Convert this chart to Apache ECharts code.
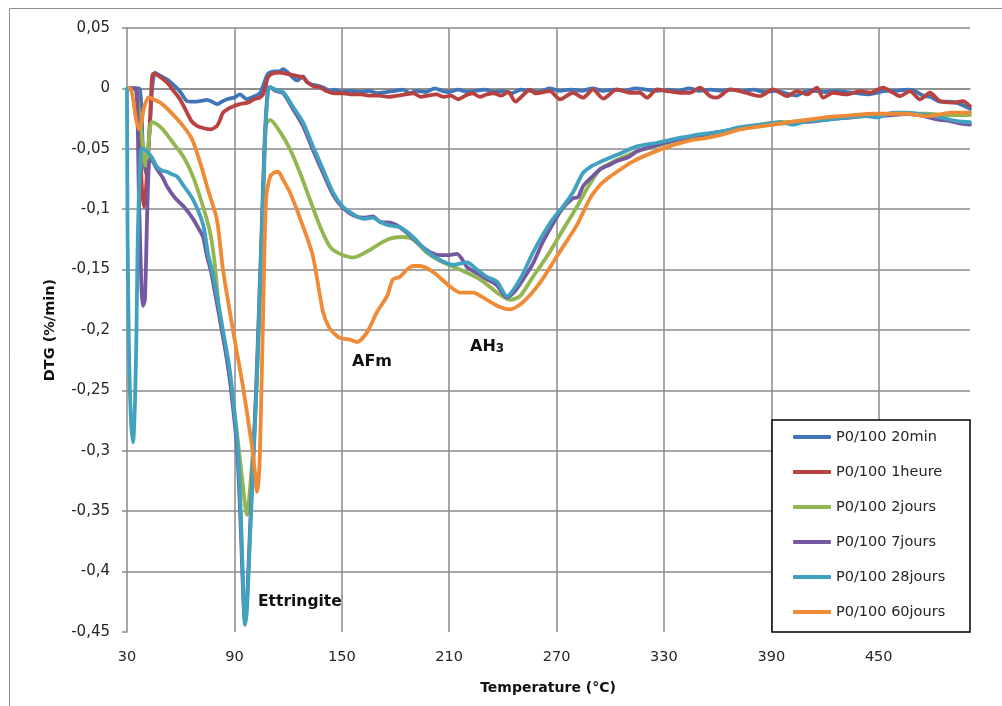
<!DOCTYPE html>
<html><head><meta charset="utf-8">
<script src="https://cdn.jsdelivr.net/npm/echarts@6/dist/echarts.min.js"></script>
<style>html,body{margin:0;padding:0;background:#fff}#c{width:1002px;height:706px}</style>
</head><body><div id="c"></div>
<script>
const seriesNames = ['P0/100 20min','P0/100 1heure','P0/100 2jours','P0/100 7jours','P0/100 28jours','P0/100 60jours'];
const seriesColors = ['#4175B8','#B8423F','#93B651','#7459A0','#41A2BF','#EF8A36'];
const xTickStart = 30, xTickStep = 60, xMax = 501;
const yMin = -0.45, yMax = 0.05, yStep = 0.05;

const s20min = [[31.5,0],[36.7,0],[38.9,-0.05],[40.6,-0.071],[42.3,-0.042],[44,-0.001],[45.6,0.013],[48,0.011],[52.3,0.0075],[56,0.003],[59.6,-0.0025],[63.5,-0.0105],[67,-0.011],[70.8,-0.0105],[74.7,-0.0095],[77.5,-0.011],[80.3,-0.013],[83,-0.011],[85.9,-0.009],[90,-0.0075],[93.1,-0.005],[97,-0.009],[100.5,-0.007],[104.3,-0.004],[106.5,0.004],[108.7,0.012],[112,0.014],[115,0.014],[117.2,0.016],[120,0.013],[122.7,0.009],[125,0.0066],[128.3,0.01],[130.6,0.005],[133.9,0.003],[137.8,0.0017],[140,0.0005],[143.4,-0.002],[146,-0.001],[149,-0.0025],[155,-0.002],[160,-0.003],[165,-0.002],[170,-0.004],[175,-0.003],[180,-0.002],[184,-0.001],[188,-0.004],[192,-0.002],[197,-0.003],[202,0.0],[206,-0.002],[210,-0.003],[215,-0.001],[220,-0.003],[225,-0.002],[230,-0.001],[235,-0.003],[240,-0.002],[245,-0.004],[250,-0.001],[255,-0.002],[260,-0.003],[266,0],[272,-0.002],[278,-0.001],[284,-0.002],[290,0.0],[296,-0.002],[302,-0.001],[308,-0.002],[314,0],[320,-0.001],[326,-0.002],[332,-0.001],[338,-0.002],[344,0],[350,-0.002],[356,-0.001],[362,-0.002],[368,-0.001],[374,-0.002],[380,-0.001],[386,-0.003],[392,-0.002],[398,-0.004],[404,-0.006],[408,-0.003],[414,-0.002],[420,-0.003],[426,-0.002],[432,-0.003],[438,-0.004],[444,-0.005],[448,-0.004],[454,-0.002],[460,-0.002],[466,-0.001],[470,-0.002],[474.7,-0.006],[479,-0.007],[484.2,-0.011],[489,-0.011],[493.7,-0.012],[497,-0.014],[501,-0.017]];

const s1heure = [[31.5,0],[35,0],[38.4,-0.084],[39.5,-0.098],[40.6,-0.084],[42.9,-0.026],[44.5,0.012],[47,0.011],[52.3,0.005],[56,-0.002],[59.6,-0.009],[63.5,-0.020],[66,-0.027],[69.1,-0.031],[73,-0.033],[76.4,-0.034],[80.3,-0.031],[82,-0.026],[83.6,-0.020],[86.5,-0.017],[89.2,-0.015],[93,-0.013],[97,-0.012],[98.7,-0.011],[101,-0.009],[104.3,-0.0075],[106,-0.005],[107.5,0.002],[108.7,0.009],[111.6,0.0125],[115,0.013],[119.4,0.012],[124,0.0105],[128.3,0.009],[131,0.005],[133.9,0.002],[137.8,0.001],[141,-0.002],[146,-0.004],[151,-0.004],[156,-0.005],[161,-0.005],[166,-0.006],[171,-0.006],[176,-0.007],[181,-0.006],[186,-0.005],[190,-0.004],[194,-0.007],[198,-0.006],[203,-0.005],[207,-0.007],[211,-0.006],[215,-0.009],[219,-0.006],[223,-0.004],[227,-0.007],[231,-0.005],[235,-0.004],[239,-0.006],[243,-0.003],[247,-0.011],[251,-0.006],[255,-0.001],[258,-0.004],[260.7,-0.0036],[266.3,-0.0022],[271.9,-0.0091],[279.2,-0.0036],[284.8,-0.0077],[290.4,-0.0008],[296,-0.0085],[303.8,-0.0008],[311,-0.0036],[316.6,-0.0036],[320.5,-0.0077],[326.1,-0.0008],[331.7,-0.0022],[338.9,-0.0036],[344.5,-0.0036],[350.1,0.0006],[355.7,-0.0064],[359.6,-0.0077],[366.9,-0.0008],[372.5,-0.0022],[383.7,-0.0064],[390.9,-0.0008],[398.7,-0.0064],[404.3,-0.0022],[409.9,-0.005],[415.5,0.0006],[418.9,-0.0077],[424.5,-0.0036],[432.3,-0.005],[439.5,-0.0022],[445.1,-0.0036],[452.4,0.0006],[458,-0.0036],[461.9,-0.0064],[467.5,-0.0022],[473,-0.0091],[478.6,-0.0036],[484.2,-0.0105],[491.5,-0.0118],[497.1,-0.0105],[501,-0.0147]];

const s2jours = [[31.5,0],[33.9,0],[37.3,-0.026],[39.5,-0.059],[40.6,-0.064],[41.7,-0.05],[42.9,-0.032],[44,-0.028],[47,-0.03],[50.1,-0.034],[55.7,-0.045],[61.3,-0.056],[66.9,-0.073],[72.5,-0.098],[76.4,-0.119],[79,-0.145],[82,-0.191],[85.9,-0.224],[89.2,-0.258],[93.1,-0.307],[95.9,-0.344],[97,-0.353],[98.7,-0.332],[101.5,-0.274],[104.3,-0.175],[106.5,-0.075],[107.7,-0.030],[110,-0.026],[115.5,-0.036],[121,-0.050],[126.7,-0.070],[132.2,-0.092],[137.8,-0.114],[143.4,-0.131],[149,-0.137],[156.3,-0.140],[164.1,-0.135],[173,-0.127],[178,-0.124],[184.2,-0.123],[189.8,-0.125],[197.6,-0.136],[206.5,-0.144],[216,-0.150],[227.2,-0.158],[236.7,-0.169],[244,-0.175],[249.6,-0.172],[256.8,-0.156],[264.7,-0.139],[273.6,-0.117],[281.4,-0.098],[287,-0.083],[294.3,-0.067],[300,-0.062],[305.4,-0.058],[315,-0.052],[327.8,-0.047],[339,-0.042],[350,-0.039],[361,-0.036],[372.5,-0.033],[384,-0.030],[395,-0.028],[410,-0.027],[421,-0.025],[432,-0.024],[443,-0.023],[455,-0.022],[466,-0.021],[477,-0.021],[488,-0.022],[501,-0.022]];

const s7jours = [[31.5,0],[34.9,0],[36.7,-0.092],[38.1,-0.166],[38.9,-0.18],[40,-0.175],[41.2,-0.108],[42.3,-0.061],[43.4,-0.059],[46.8,-0.067],[50,-0.074],[52.3,-0.081],[57,-0.091],[61.8,-0.098],[66.9,-0.108],[70,-0.116],[72.5,-0.123],[74.7,-0.139],[77,-0.152],[79.5,-0.172],[83,-0.2],[86.8,-0.234],[89.8,-0.272],[91.6,-0.3],[93.4,-0.357],[94.6,-0.407],[95.8,-0.44],[96.9,-0.428],[98.6,-0.37],[100.3,-0.312],[102,-0.255],[103.6,-0.188],[105.3,-0.114],[107,-0.04],[108.8,0.0],[110,0.001],[113,-0.002],[117.2,-0.004],[122.7,-0.017],[128.3,-0.031],[133.9,-0.051],[139.5,-0.070],[145.1,-0.088],[150.7,-0.099],[156.3,-0.105],[161.9,-0.107],[167.4,-0.106],[172,-0.111],[175.3,-0.111],[179,-0.112],[182.5,-0.115],[189.8,-0.124],[195,-0.131],[200,-0.136],[205,-0.138],[210,-0.138],[214.4,-0.137],[217,-0.141],[220,-0.148],[225.5,-0.153],[231.1,-0.158],[236.7,-0.163],[242.3,-0.173],[246,-0.169],[249.6,-0.162],[256.8,-0.145],[262,-0.128],[268,-0.112],[273,-0.1],[279.2,-0.091],[282,-0.09],[284.8,-0.081],[290,-0.073],[294.3,-0.067],[300,-0.063],[303.8,-0.060],[310,-0.057],[315,-0.052],[326,-0.047],[338.9,-0.042],[350,-0.039],[361,-0.036],[372.5,-0.033],[383.7,-0.031],[395,-0.029],[405,-0.028],[415,-0.027],[425,-0.025],[435,-0.024],[443,-0.022],[450,-0.023],[458,-0.022],[466,-0.021],[472,-0.022],[478,-0.024],[484,-0.026],[490,-0.027],[495,-0.029],[501,-0.030]];

const s28jours = [[30,0],[30.3,-0.117],[31.1,-0.216],[32.2,-0.274],[33.4,-0.293],[34.5,-0.258],[35.3,-0.2],[36.1,-0.117],[37.3,-0.063],[38.1,-0.05],[39.5,-0.05],[41,-0.052],[43.4,-0.056],[46.8,-0.065],[49.5,-0.068],[52.3,-0.069],[55,-0.071],[58,-0.073],[61.8,-0.081],[66.9,-0.092],[72.5,-0.1126],[75.3,-0.137],[78,-0.154],[80.3,-0.172],[83.6,-0.2],[87.5,-0.234],[90.3,-0.272],[92,-0.299],[93.7,-0.357],[94.8,-0.407],[95.9,-0.444],[97,-0.431],[98.7,-0.373],[100.4,-0.315],[102.1,-0.258],[103.7,-0.191],[105.4,-0.117],[107.1,-0.042],[108.8,-0.0025],[110,0.001],[113,-0.001],[117.2,-0.003],[122.7,-0.015],[128.3,-0.028],[133.9,-0.048],[139.5,-0.067],[145.1,-0.086],[150.7,-0.098],[156.3,-0.104],[161.9,-0.108],[167.4,-0.107],[171,-0.110],[175.3,-0.113],[182.5,-0.115],[189.8,-0.123],[197.6,-0.135],[204.9,-0.142],[212.1,-0.146],[220,-0.144],[225.5,-0.150],[231.1,-0.156],[236.7,-0.160],[242.3,-0.172],[249.6,-0.158],[256.8,-0.136],[262,-0.122],[268,-0.108],[274,-0.097],[279.2,-0.086],[284.8,-0.070],[290,-0.064],[294.3,-0.061],[303.8,-0.055],[315,-0.048],[326.1,-0.045],[338.9,-0.041],[350.1,-0.038],[361.3,-0.036],[372.5,-0.032],[383.7,-0.030],[394.8,-0.028],[402.1,-0.030],[409.9,-0.027],[421.1,-0.026],[432.3,-0.024],[443.4,-0.023],[449,-0.024],[458,-0.020],[465.8,-0.020],[477,-0.022],[484.2,-0.024],[493.7,-0.027],[501,-0.028]];

const s60jours = [[31.5,0],[32,0],[33.4,-0.009],[35,-0.025],[36.7,-0.034],[37.8,-0.03],[39.5,-0.016],[41.2,-0.009],[42.3,-0.0075],[44.5,-0.009],[48.4,-0.0116],[54,-0.019],[61.3,-0.031],[66.3,-0.042],[70.8,-0.061],[75.3,-0.084],[80.3,-0.109],[83.6,-0.150],[89.2,-0.2],[94.8,-0.247],[99.8,-0.296],[101.5,-0.318],[102.6,-0.334],[103.5,-0.325],[104.3,-0.301],[106,-0.191],[107.7,-0.092],[110,-0.073],[112,-0.070],[114.4,-0.069],[117,-0.075],[121,-0.086],[128.3,-0.114],[133.9,-0.139],[139.5,-0.185],[143,-0.198],[147.3,-0.205],[150,-0.207],[154.6,-0.208],[158.5,-0.21],[164.1,-0.202],[169.7,-0.185],[175.3,-0.172],[178.6,-0.158],[182.5,-0.156],[186.4,-0.15],[189.8,-0.147],[193.7,-0.147],[201,-0.152],[210.5,-0.164],[216,-0.169],[223.3,-0.169],[231.1,-0.175],[238.4,-0.181],[244,-0.183],[251.2,-0.177],[260.7,-0.161],[270.2,-0.139],[281.4,-0.113],[288.7,-0.091],[294.3,-0.080],[299,-0.074],[303.8,-0.069],[312,-0.061],[322.2,-0.054],[335,-0.047],[345,-0.043],[354,-0.041],[363,-0.038],[372.5,-0.034],[381,-0.032],[390.9,-0.030],[400,-0.028],[409.9,-0.026],[420,-0.024],[428.4,-0.023],[437,-0.022],[446.8,-0.021],[456,-0.021],[465.8,-0.021],[471,-0.022],[477,-0.023],[483,-0.022],[489.8,-0.020],[495,-0.020],[501,-0.020]];

const seriesData = [s20min, s1heure, s2jours, s7jours, s28jours, s60jours];

const FONT = '"DejaVu Sans"';
const chart = echarts.init(document.getElementById('c'), null, {renderer: 'canvas'});
const gridColor = '#8a8a8a';
const txt = '#262626';
chart.setOption({
  animation: false,
  backgroundColor: '#ffffff',
  textStyle: {fontFamily: FONT},
  grid: {left: 127, top: 28, right: 32, bottom: 74, containLabel: false},
  xAxis: {
    type: 'value', min: xTickStart, max: xMax, interval: xTickStep,
    axisLine: {show: true, lineStyle: {color: gridColor, width: 1.5}},
    axisTick: {show: true, length: 5, lineStyle: {color: gridColor, width: 1.5}},
    axisLabel: {margin: 18, fontSize: 14.5, color: txt, fontFamily: FONT, showMaxLabel: false,
      formatter: v => ((v - xTickStart) % xTickStep === 0 ? String(v) : '')},
    splitLine: {show: true, showMinLine: false, showMaxLine: false, lineStyle: {color: gridColor, width: 1.5}}
  },
  yAxis: {
    type: 'value', min: yMin, max: yMax, interval: yStep,
    axisLine: {show: true, lineStyle: {color: gridColor, width: 1.5}},
    axisTick: {show: true, length: 5, lineStyle: {color: gridColor, width: 1.5}},
    axisLabel: {margin: 17, fontSize: 15, color: txt, fontFamily: FONT,
      formatter: v => { const r = Math.round(v * 100) / 100; return (r === 0 ? '0' : String(r)).replace('.', ','); }},
    splitLine: {show: true, showMinLine: false, lineStyle: {color: gridColor, width: 1.5}}
  },
  legend: {
    orient: 'vertical', left: 793, top: 429, z: 20, padding: 0,
    icon: 'roundRect', itemWidth: 38, itemHeight: 4, itemGap: 19,
    textStyle: {fontSize: 14.5, lineHeight: 16, color: txt, fontFamily: FONT},
    data: seriesNames
  },
  graphic: [
    {type: 'rect', z: -10, shape: {x: 9.5, y: 8.5, width: 1000, height: 705}, style: {fill: 'none', stroke: '#8c8c8c', lineWidth: 1}},
    {type: 'rect', z: 10, shape: {x: 772, y: 420, width: 198, height: 212}, style: {fill: '#fff', stroke: '#000', lineWidth: 1.5}},
    {type: 'text', z: 10, x: 50, y: 330, rotation: Math.PI / 2, style: {text: 'DTG (%/min)', font: 'bold 14.5px ' + FONT, fill: '#111', align: 'center', verticalAlign: 'middle'}},
    {type: 'text', z: 10, x: 548, y: 688, style: {text: 'Temperature (°C)', font: 'bold 14px ' + FONT, fill: '#111', align: 'center', verticalAlign: 'middle'}},
    {type: 'text', z: 10, x: 258, y: 602, style: {text: 'Ettringite', font: 'bold 15.5px ' + FONT, fill: '#111', align: 'left', verticalAlign: 'middle'}},
    {type: 'text', z: 10, x: 352, y: 362, style: {text: 'AFm', font: 'bold 16px ' + FONT, fill: '#111', align: 'left', verticalAlign: 'middle'}},
    {type: 'text', z: 10, x: 470, y: 346, style: {text: '{a|AH}{b|3}', align: 'left', verticalAlign: 'middle',
      rich: {a: {fontSize: 16, fontWeight: 'bold', fontFamily: FONT, fill: '#111', color: '#111', verticalAlign: 'bottom', lineHeight: 18},
             b: {fontSize: 12, fontWeight: 'bold', fontFamily: FONT, fill: '#111', color: '#111', verticalAlign: 'bottom', lineHeight: 18}}}}
  ],
  series: seriesData.map((d, i) => ({
    name: seriesNames[i], type: 'line', data: d, showSymbol: false, symbol: 'none',
    smooth: 0.25, z: 2 + i,
    lineStyle: {color: seriesColors[i], width: 3.8, cap: 'round', join: 'round'},
    itemStyle: {color: seriesColors[i]}
  }))
});
</script></body></html>
